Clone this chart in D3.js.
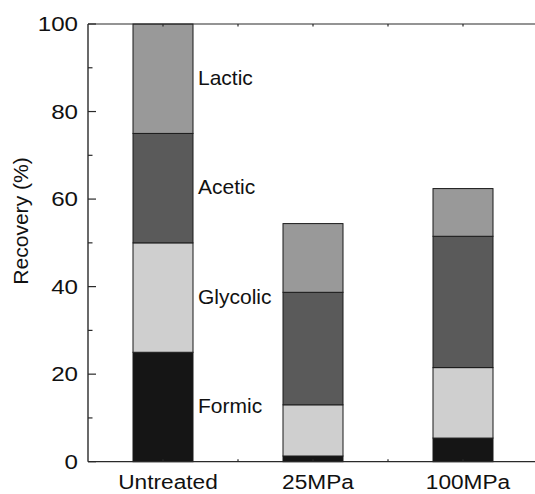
<!DOCTYPE html>
<html>
<head>
<meta charset="utf-8">
<script src="https://cdn.jsdelivr.net/npm/d3@7"></script>
<style>
  html, body { margin: 0; padding: 0; background: #fff; }
  svg { display: block; font-family: "Liberation Sans", Arial, sans-serif; }
</style>
</head>
<body>
<svg id="chart" width="535" height="494"></svg>
<script>
// ---- data ----
const categories = ["Untreated", "25MPa", "100MPa"];
const seriesNames = ["Formic", "Glycolic", "Acetic", "Lactic"];
const formic   = [25.0, 1.3, 5.4];
const glycolic = [25.0, 11.7, 16.1];
const acetic   = [25.0, 25.7, 30.0];
const lactic   = [25.0, 15.7, 10.9];
const yMajorTicks = [0, 20, 40, 60, 80, 100];
const yMinorTicks = [10, 30, 50, 70, 90];
const seriesColors = ["#151515", "#cfcfcf", "#5a5a5a", "#999999"];

(function () {
// ---- build table ----
const seriesValues = [formic, glycolic, acetic, lactic];
const table = categories.map((c, i) => {
  const row = { category: c };
  seriesNames.forEach((s, j) => { row[s] = seriesValues[j][i]; });
  return row;
});
const stacked = d3.stack().keys(seriesNames)(table);

const svg = d3.select("#chart");
const pLeft = 88, pRight = 538, pTop = 24, pBottom = 461.7;

const x = d3.scaleBand().domain(categories).range([pLeft, pRight])
  .paddingInner(0.6).paddingOuter(0.3);
const y = d3.scaleLinear().domain([0, 100]).range([pBottom, pTop]);
const color = d3.scaleOrdinal().domain(seriesNames).range(seriesColors);

// ---- bars ----
svg.append("g").selectAll("g").data(stacked).join("g")
  .attr("fill", d => color(d.key))
  .selectAll("rect").data(d => d).join("rect")
  .attr("x", d => x(d.data.category))
  .attr("width", x.bandwidth())
  .attr("y", d => y(d[1]))
  .attr("height", d => y(d[0]) - y(d[1]))
  .attr("stroke", "#1a1a1a")
  .attr("stroke-width", 1);

// ---- frame ----
const axisColor = "#2a2a2a";
svg.append("line").attr("x1", pLeft).attr("x2", pLeft).attr("y1", pTop).attr("y2", pBottom)
  .attr("stroke", axisColor).attr("stroke-width", 1.4);
svg.append("line").attr("x1", pLeft).attr("x2", pRight).attr("y1", pTop).attr("y2", pTop)
  .attr("stroke", axisColor).attr("stroke-width", 1.2);
svg.append("line").attr("x1", pLeft).attr("x2", pRight).attr("y1", pBottom).attr("y2", pBottom)
  .attr("stroke", axisColor).attr("stroke-width", 1.2);

// ---- y ticks ----
const gy = svg.append("g");
gy.selectAll(".maj").data(yMajorTicks).join("line")
  .attr("class", "maj")
  .attr("x1", pLeft).attr("x2", pLeft + 8)
  .attr("y1", d => y(d)).attr("y2", d => y(d))
  .attr("stroke", axisColor).attr("stroke-width", 1.2);
gy.selectAll(".min").data(yMinorTicks).join("line")
  .attr("class", "min")
  .attr("x1", pLeft).attr("x2", pLeft + 4.5)
  .attr("y1", d => y(d)).attr("y2", d => y(d))
  .attr("stroke", axisColor).attr("stroke-width", 1.2);
gy.selectAll("text").data(yMajorTicks).join("text")
  .attr("transform", d => `translate(${pLeft - 10},${y(d) + 7.3}) scale(1.15,1)`)
  .attr("text-anchor", "end")
  .attr("font-size", 21)
  .attr("fill", "#111")
  .text(d => d);

// ---- x ticks (small marks at band centres and boundaries) ----
const xMarks = [];
categories.forEach(c => {
  xMarks.push(x(c) + x.bandwidth() / 2);
  xMarks.push(x(c) + x.bandwidth() / 2 + x.step() / 2);
});
svg.append("g").selectAll("line").data(xMarks).join("line")
  .attr("x1", d => d).attr("x2", d => d)
  .attr("y1", pTop).attr("y2", pTop + 2.5)
  .attr("stroke", axisColor).attr("stroke-width", 1.2);
svg.append("g").selectAll("line").data(xMarks).join("line")
  .attr("x1", d => d).attr("x2", d => d)
  .attr("y1", pBottom).attr("y2", pBottom - 2.5)
  .attr("stroke", axisColor).attr("stroke-width", 1.2);

// ---- category labels ----
svg.append("g").selectAll("text").data(categories).join("text")
  .attr("transform", d => `translate(${x(d) + x.bandwidth() / 2 + 5},489) scale(1.08,1)`)
  .attr("text-anchor", "middle")
  .attr("font-size", 21)
  .attr("fill", "#111")
  .text(d => d);

// ---- y axis title ----
svg.append("text")
  .attr("transform", "translate(27.5,221) rotate(-90) scale(1.08,1)")
  .attr("text-anchor", "middle")
  .attr("font-size", 19.5)
  .attr("fill", "#111")
  .text("Recovery (%)");

// ---- segment labels beside first bar ----
const firstCat = categories[0];
const labelX = x(firstCat) + x.bandwidth() + 5;
svg.append("g").selectAll("text").data(stacked).join("text")
  .attr("x", labelX)
  .attr("y", d => y((d[0][0] + d[0][1]) / 2))
  .attr("dy", "0.3em")
  .attr("font-size", 21)
  .attr("fill", "#111")
  .text(d => d.key);
})();
</script>
</body>
</html>
